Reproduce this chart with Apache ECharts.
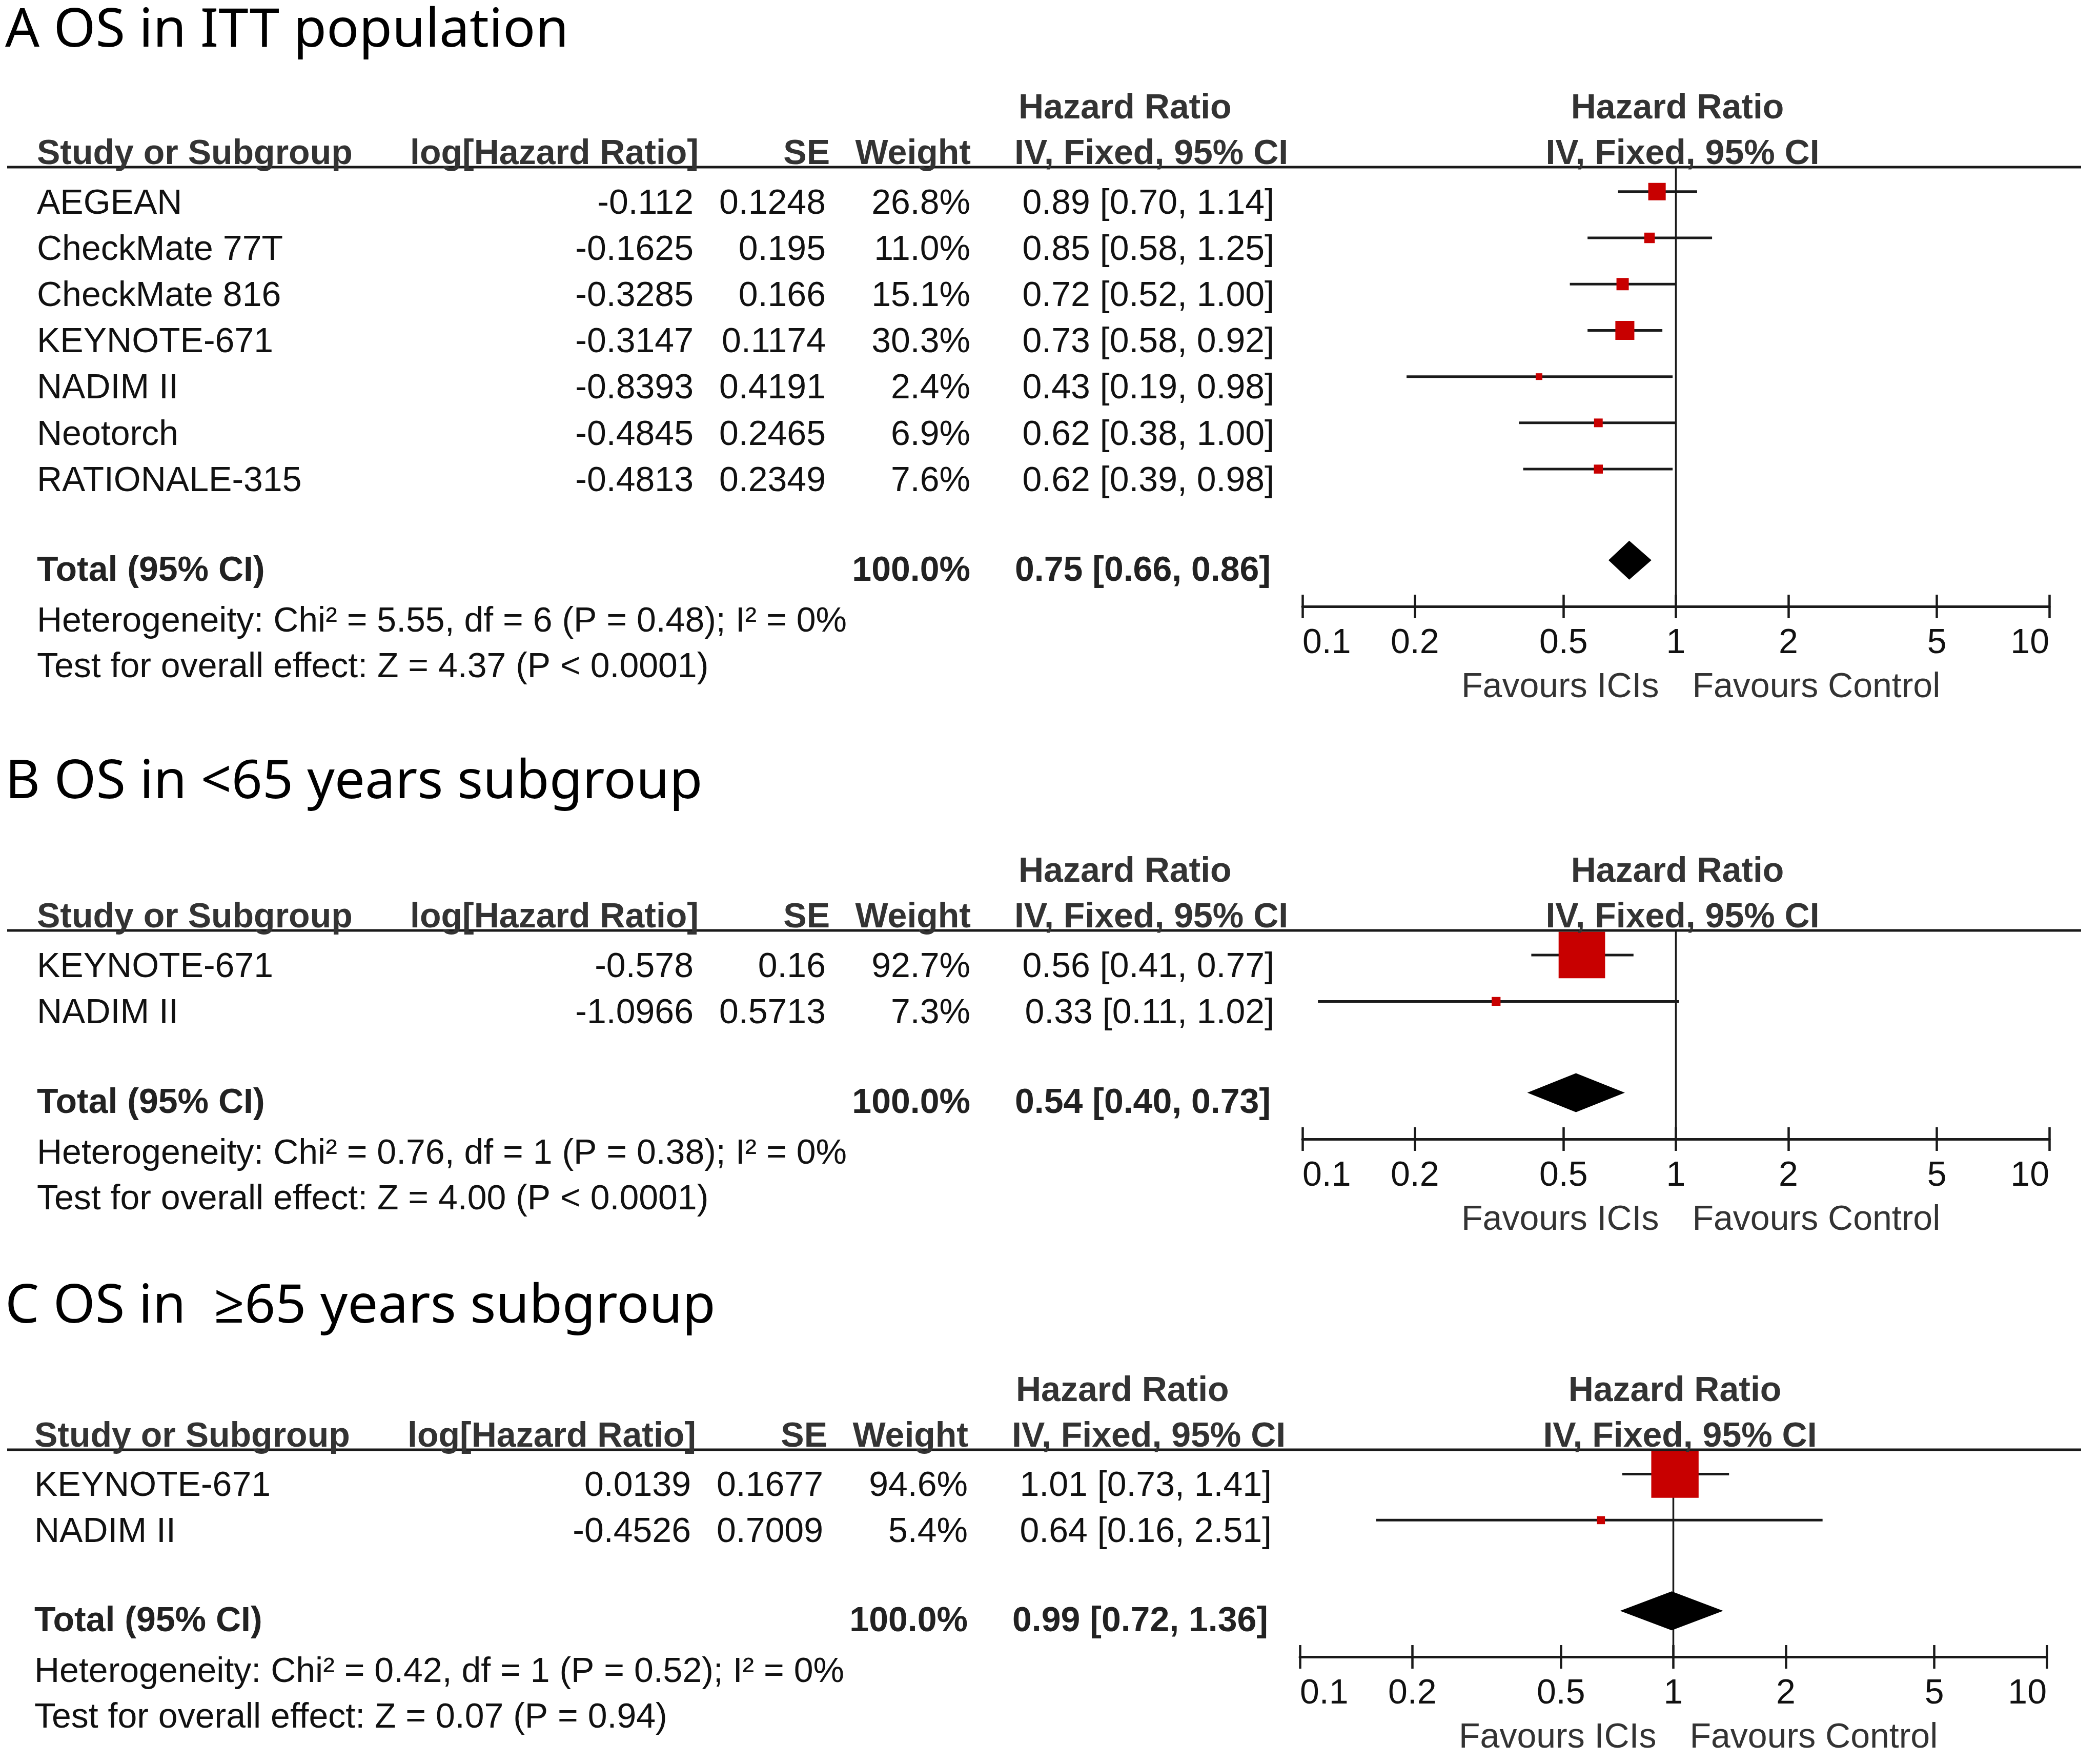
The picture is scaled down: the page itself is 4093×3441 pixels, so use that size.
<!DOCTYPE html>
<html>
<head>
<meta charset="utf-8">
<script src="https://cdn.jsdelivr.net/npm/echarts@6/dist/echarts.min.js"></script>
<style>html,body{margin:0;padding:0;background:#fff}#chart{width:4093px;height:3441px}</style>
</head>
<body>
<div id="chart"></div>
<script>
// ---------- data ----------
const titles = ['A OS in ITT population', 'B OS in <65 years subgroup', 'C OS in  \u226565 years subgroup'];
const columnHeaders = ['Study or Subgroup', 'log[Hazard Ratio]', 'SE', 'Weight', 'IV, Fixed, 95% CI'];
const effectHeader = ['Hazard Ratio', 'IV, Fixed, 95% CI'];
const totalLabel = 'Total (95% CI)';
const totalWeightLabel = '100.0%';
const favoursLabels = ['Favours ICIs', 'Favours Control'];
const tickValues = [0.1, 0.2, 0.5, 1, 2, 5, 10];
const tickLabels = ['0.1', '0.2', '0.5', '1', '2', '5', '10'];

const studiesA = ['AEGEAN', 'CheckMate 77T', 'CheckMate 816', 'KEYNOTE-671', 'NADIM II', 'Neotorch', 'RATIONALE-315'];
const logHrA = [-0.112, -0.1625, -0.3285, -0.3147, -0.8393, -0.4845, -0.4813];
const seA = [0.1248, 0.195, 0.166, 0.1174, 0.4191, 0.2465, 0.2349];
const weightA = [26.8, 11.0, 15.1, 30.3, 2.4, 6.9, 7.6];
const hrA = [0.89, 0.85, 0.72, 0.73, 0.43, 0.62, 0.62];
const lowerA = [0.70, 0.58, 0.52, 0.58, 0.19, 0.38, 0.39];
const upperA = [1.14, 1.25, 1.00, 0.92, 0.98, 1.00, 0.98];
const totalA = [0.75, 0.66, 0.86];
const hetA = 'Heterogeneity: Chi\u00b2 = 5.55, df = 6 (P = 0.48); I\u00b2 = 0%';
const testA = 'Test for overall effect: Z = 4.37 (P < 0.0001)';

const studiesB = ['KEYNOTE-671', 'NADIM II'];
const logHrB = [-0.578, -1.0966];
const seB = [0.16, 0.5713];
const weightB = [92.7, 7.3];
const hrB = [0.56, 0.33];
const lowerB = [0.41, 0.11];
const upperB = [0.77, 1.02];
const totalB = [0.54, 0.40, 0.73];
const hetB = 'Heterogeneity: Chi\u00b2 = 0.76, df = 1 (P = 0.38); I\u00b2 = 0%';
const testB = 'Test for overall effect: Z = 4.00 (P < 0.0001)';

const studiesC = ['KEYNOTE-671', 'NADIM II'];
const logHrC = [0.0139, -0.4526];
const seC = [0.1677, 0.7009];
const weightC = [94.6, 5.4];
const hrC = [1.01, 0.64];
const lowerC = [0.73, 0.16];
const upperC = [1.41, 2.51];
const totalC = [0.99, 0.72, 1.36];
const hetC = 'Heterogeneity: Chi\u00b2 = 0.42, df = 1 (P = 0.52); I\u00b2 = 0%';
const testC = 'Test for overall effect: Z = 0.07 (P = 0.94)';

const panels = [
  {studies: studiesA, logHr: logHrA, se: seA, weight: weightA, hr: hrA, lo: lowerA, hi: upperA, total: totalA, het: hetA, test: testA},
  {studies: studiesB, logHr: logHrB, se: seB, weight: weightB, hr: hrB, lo: lowerB, hi: upperB, total: totalB, het: hetB, test: testB},
  {studies: studiesC, logHr: logHrC, se: seC, weight: weightC, hr: hrC, lo: lowerC, hi: upperC, total: totalC, het: hetC, test: testC}
];

// ---------- layout ----------
const layout = [
  {titleY: 57, headerY: 326, axisY: 1183, dx: 0},
  {titleY: 1523, headerY: 1815, axisY: 2222, dx: 0},
  {titleY: 2546, headerY: 2828, axisY: 3232, dx: -5}
];
const VC = 4;          // visual centring correction for text
const FS = 68;         // table font size
const FONT = '"Liberation Sans", Arial, sans-serif';
const TITLE_FONT = '"Noto Sans", "Open Sans", sans-serif';
const INK = '#1a1a1a';
const RED = '#c80000';

function labelFor(v) {
  let best = 0, bd = Infinity;
  tickValues.forEach((t, i) => {
    const d = Math.abs(Math.log10(t) - Math.log10(v));
    if (d < bd) { bd = d; best = i; }
  });
  return tickLabels[best];
}

const chart = echarts.init(document.getElementById('chart'), null, {renderer: 'canvas', width: 4093, height: 3441});

const grids = [], xAxes = [], yAxes = [], series = [];
panels.forEach((pd, p) => {
  const L = layout[p];
  const n = pd.studies.length;
  const yMin = -0.53, yTot = n + 0.97, yMax = n + 1.97;
  grids.push({left: 2541 + L.dx, width: 1457, top: L.headerY, height: L.axisY - L.headerY,
    containLabel: false, outerBoundsMode: 'none'});
  const base = {type: 'log', logBase: 10, min: 0.1, max: 10, gridIndex: p, position: 'bottom',
    splitLine: {show: false}, minorTick: {show: false}, minorSplitLine: {show: false}};
  xAxes.push(Object.assign({}, base, {
    axisLine: {show: true, onZero: false, lineStyle: {color: INK, width: 5}},
    axisTick: {show: true, customValues: tickValues, inside: false, length: 23, lineStyle: {color: INK, width: 4.5}},
    axisLabel: {show: true, customValues: tickValues, formatter: v => labelFor(v), margin: 38,
      fontSize: FS, fontFamily: FONT, color: '#111', alignMinLabel: 'left', alignMaxLabel: 'right',
      showMinLabel: true, showMaxLabel: true, hideOverlap: false}
  }));
  xAxes.push(Object.assign({}, base, {
    axisLine: {show: false, onZero: false},
    axisTick: {show: true, customValues: tickValues, inside: true, length: 23, lineStyle: {color: INK, width: 4.5}},
    axisLabel: {show: false}
  }));
  yAxes.push({type: 'value', gridIndex: p, inverse: true, min: yMin, max: yMax, show: false});

  // line of no effect
  series.push({type: 'line', xAxisIndex: 2 * p, yAxisIndex: p, data: [[1, yMin], [1, yMax]],
    symbol: 'none', silent: true, z: 2, lineStyle: {color: INK, width: 3.5}});
  // studies: CI whisker + weighted square
  series.push({type: 'custom', xAxisIndex: 2 * p, yAxisIndex: p, z: 3, silent: true,
    encode: {x: [0, 1, 2], y: 4},
    data: pd.studies.map((s, i) => [pd.hr[i], pd.lo[i], pd.hi[i], pd.weight[i], i]),
    renderItem: (params, api) => {
      const y = api.value(4);
      const a = api.coord([api.value(1), y]);
      const b = api.coord([api.value(2), y]);
      const c = api.coord([api.value(0), y]);
      const s = 11 + 0.86 * api.value(3);
      return {type: 'group', children: [
        {type: 'line', shape: {x1: a[0], y1: a[1], x2: b[0], y2: b[1]}, style: {stroke: INK, lineWidth: 5}},
        {type: 'rect', shape: {x: c[0] - s / 2, y: c[1] - s / 2, width: s, height: s}, style: {fill: RED}}
      ]};
    }
  });
  // pooled diamond
  series.push({type: 'custom', xAxisIndex: 2 * p, yAxisIndex: p, z: 4, silent: true,
    encode: {x: [0, 1, 2], y: 3},
    data: [[pd.total[0], pd.total[1], pd.total[2], yTot]],
    renderItem: (params, api) => {
      const y = api.value(3);
      const l = api.coord([api.value(1), y]);
      const r = api.coord([api.value(2), y]);
      const m = api.coord([api.value(0), y]);
      const h = 38;
      return {type: 'polygon', shape: {points: [[l[0], l[1]], [m[0], m[1] - h], [r[0], r[1]], [m[0], m[1] + h]]},
        style: {fill: '#000'}};
    }
  });
});

chart.setOption({animation: false, backgroundColor: '#fff', grid: grids, xAxis: xAxes, yAxis: yAxes, series: series});

function txt(x, y, s, o) {
  o = o || {};
  const align = o.align || 'left';
  return {type: 'text', silent: true, x: x, y: y + VC, z: 10,
    style: {text: s, fill: o.fill || '#111', fontSize: o.size || FS, fontFamily: o.family || FONT,
      fontWeight: o.bold ? 'bold' : 'normal', textAlign: align, align: align,
      textVerticalAlign: 'middle', verticalAlign: 'middle'}};
}

const g = [];
panels.forEach((pd, p) => {
  const L = layout[p];
  const dx = L.dx;
  const n = pd.studies.length;
  const finder = {xAxisIndex: 2 * p, yAxisIndex: p};
  const px = v => chart.convertToPixel(finder, v);
  const yTot = n + 0.97, yMax = n + 1.97;
  const x1 = px([1, yMax])[0];

  g.push(txt(10, L.titleY, titles[p], {family: TITLE_FONT, size: 105, fill: '#000'}));
  g.push({type: 'line', silent: true, z: 5, shape: {x1: 14, y1: L.headerY, x2: 4060, y2: L.headerY},
    style: {stroke: INK, lineWidth: 5}});

  const hy = L.headerY - 29, hy2 = L.headerY - 118;
  const H = {bold: true, fill: '#333'};
  g.push(txt(72 + dx, hy, columnHeaders[0], H));
  g.push(txt(1363 + dx, hy, columnHeaders[1], Object.assign({align: 'right'}, H)));
  g.push(txt(1619 + dx, hy, columnHeaders[2], Object.assign({align: 'right'}, H)));
  g.push(txt(1894 + dx, hy, columnHeaders[3], Object.assign({align: 'right'}, H)));
  g.push(txt(1979 + dx, hy, columnHeaders[4], H));
  g.push(txt(1987 + dx, hy2, effectHeader[0], H));
  g.push(txt(x1 + 3, hy2, effectHeader[0], Object.assign({align: 'center'}, H)));
  g.push(txt(x1 + 13, hy, effectHeader[1], Object.assign({align: 'center'}, H)));

  pd.studies.forEach((s, i) => {
    const y = px([1, i])[1] + 20;
    g.push(txt(72 + dx, y, s));
    g.push(txt(1353 + dx, y, String(pd.logHr[i]), {align: 'right'}));
    g.push(txt(1611 + dx, y, String(pd.se[i]), {align: 'right'}));
    g.push(txt(1893 + dx, y, pd.weight[i].toFixed(1) + '%', {align: 'right'}));
    g.push(txt(2486 + dx, y, pd.hr[i].toFixed(2) + ' [' + pd.lo[i].toFixed(2) + ', ' + pd.hi[i].toFixed(2) + ']', {align: 'right'}));
  });

  const ty = px([1, yTot])[1] + 17;
  g.push(txt(72 + dx, ty, totalLabel, {bold: true, fill: '#222'}));
  g.push(txt(1893 + dx, ty, totalWeightLabel, {bold: true, fill: '#222', align: 'right'}));
  g.push(txt(2479 + dx, ty, pd.total[0].toFixed(2) + ' [' + pd.total[1].toFixed(2) + ', ' + pd.total[2].toFixed(2) + ']',
    {bold: true, fill: '#222', align: 'right'}));
  g.push(txt(72 + dx, ty + 99, pd.het));
  g.push(txt(72 + dx, ty + 188, pd.test));

  g.push(txt(x1 - 33, L.axisY + 154, favoursLabels[0], {align: 'right', fill: '#333'}));
  g.push(txt(x1 + 32, L.axisY + 154, favoursLabels[1], {align: 'left', fill: '#333'}));
});

chart.setOption({graphic: {elements: g}});
</script>
</body>
</html>
